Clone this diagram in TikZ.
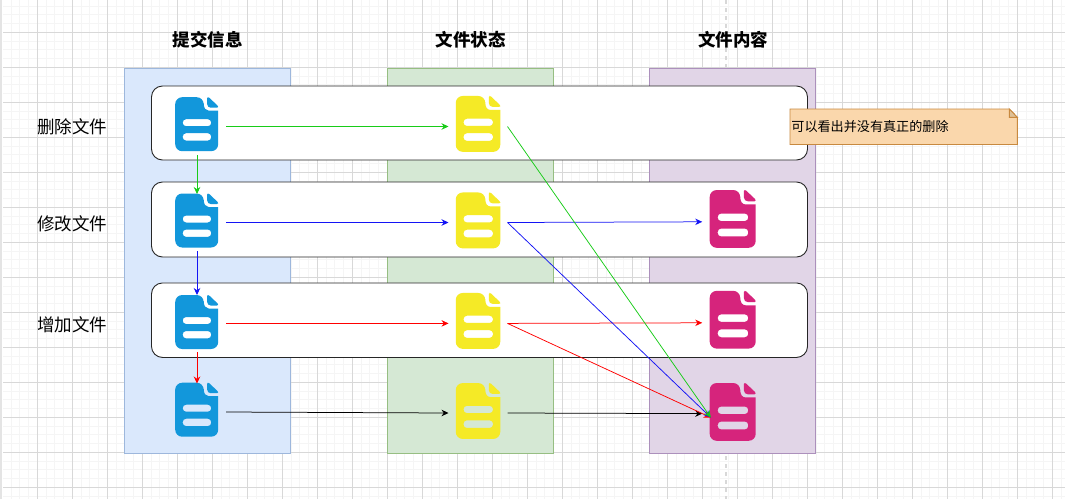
\documentclass[tikz,border=0pt]{standalone}
\usepackage{fontspec}
\setmainfont{Noto Sans CJK SC}
\usetikzlibrary{arrows.meta}
\definecolor{gridminor}{HTML}{F5F5F5}
\definecolor{gridmajor}{HTML}{D8D8D8}
\definecolor{docblue}{HTML}{1297DB}
\definecolor{docyellow}{HTML}{F5EA26}
\definecolor{docpink}{HTML}{D6247C}
\definecolor{greenflow}{HTML}{18CC18}
\definecolor{blueflow}{HTML}{1414F5}
\definecolor{infofill}{HTML}{DAE8FC}
\definecolor{infoedge}{HTML}{9DB7DC}
\definecolor{statefill}{HTML}{D5E8D4}
\definecolor{stateedge}{HTML}{96BE82}
\definecolor{contentfill}{HTML}{E1D5E7}
\definecolor{contentedge}{HTML}{AC90BC}
\definecolor{notefill}{HTML}{FAD7AC}
\definecolor{noteedge}{HTML}{C8893F}
\definecolor{notefold}{HTML}{DEC096}
\tikzset{
  >={Stealth[length=7pt,width=6.5pt]},
  lane/.style={draw=#1edge,fill=#1fill,line width=1pt,inner sep=0pt,minimum width=166pt,minimum height=385.5pt},
  rowbox/.style={draw=black!85,fill=white,rounded corners=11pt,line width=0.9pt,minimum width=656pt,inner sep=0pt},
  docfile/.style={minimum width=59pt,minimum height=57pt,inner sep=0pt,outer sep=0pt},
  title/.style={font=\fontsize{17.5}{20}\selectfont\bfseries},
  action/.style={font=\fontsize{17.5}{20}\selectfont},
  flow/.style={->,line width=0.75pt},
  pics/docicon/.style={code={
    \fill[#1,even odd rule]
      [rounded corners=7pt](-21.5,0)--(-21.5,-27)--(7,-27)[sharp corners]--(7,-21)
      ..controls (7,-16) and (9,-13.5)..(12,-13.5)--(21.5,-13.5)[rounded corners=7pt]--(21.5,27)--(-21.5,27)--cycle
      [rounded corners=3.4pt](-14,-5) rectangle (14.5,2)(-14,9) rectangle (14.5,16.4);
    \fill[#1,rounded corners=1pt](10.5,-27)--(10.5,-21)..controls (10.5,-18) and (12,-16.5)..(15,-16.5)
      --(21.5,-16.5)--(21.5,-18)--(12,-27)--cycle;
  }}
}
\begin{document}
\begin{tikzpicture}[x=1pt,y=-1pt]
\useasboundingbox (0,0) rectangle (1065,499);
\fill[gridmajor!70](0,0) rectangle (2,499);
% grid
\foreach \gx in {11.05,19.8,...,1065}{\draw[gridminor,line width=0.8pt](\gx,0)--(\gx,499);}
\foreach \gy in {5.95,14.7,...,499}{\draw[gridminor,line width=0.8pt](3,\gy)--(1065,\gy);}
\foreach \gx in {37.3,72.3,...,1065}{\draw[gridmajor,line width=0.8pt](\gx,0)--(\gx,499);}
\foreach \gy in {32.3,67.3,...,499}{\draw[gridmajor,line width=0.8pt](3,\gy)--(1065,\gy);}
\draw[gridmajor,line width=1.3pt,dash pattern=on 4pt off 4pt](726,0)--(726,499);
% columns
\node[lane=info] (infolane) at (207.8,261) {};
\node[lane=state] (statelane) at (470.5,261) {};
\node[lane=content] (contentlane) at (732.8,261) {};
\node[title] (infotitle) at (207.5,39.5) {提交信息};
\node[title] (statetitle) at (470.5,39.5) {文件状态};
\node[title] (contenttitle) at (733,39.5) {文件内容};
% rows
\node[rowbox,minimum height=74pt] (delrow) at (479.5,123) {};
\node[rowbox,minimum height=75pt] (editrow) at (479.5,219.5) {};
\node[rowbox,minimum height=74.5pt] (addrow) at (479.5,320.2) {};
\node[action] (dellabel) at (72,127) {删除文件};
\node[action] (editlabel) at (72,223.5) {修改文件};
\node[action] (addlabel) at (72,324.5) {增加文件};
% files
\foreach \nm/\py/\iy in {m1/126.5/124.2,m2/222.5/220.5,m3/323.5/322,m4/412/409.7}{
  \node[docfile,minimum width=58pt] (\nm) at (197,\py) {};
  \pic at (196.7,\iy) {docicon=docblue};
}
\foreach \nm/\py/\iy in {f1/126.5/123.9,f2/222.5/220.4,f3/323.4/320.9,f4/413/411}{
  \node[docfile] (\nm) at (478,\py) {};
  \pic[scale=1.035] at (478,\iy) {docicon=docyellow};
}
\foreach \nm/\py/\iy in {c2/221.8/218.9,c3/322.8/319.7,c4/413.6/411.9}{
  \node[docfile] (\nm) at (731.7,\py) {};
  \pic[scale=1.07] at (732.7,\iy) {docicon=docpink};
}
\coordinate (hit) at (710.8,417.5);
% note
\draw[draw=noteedge,fill=notefill,line width=0.9pt](790,109)--(1009.3,109)--(1017.3,117.3)--(1017.3,144.5)--(790,144.5)--cycle;
\draw[draw=noteedge,fill=notefold,line width=0.9pt](1009.3,109)--(1009.3,117.3)--(1017.3,117.3)--cycle;
\node[anchor=west,inner sep=0pt,font=\fontsize{13.1}{15}\selectfont] (deltip) at (791.2,126.5) {可以看出并没有真正的删除};
% connectors
\draw[flow,greenflow](m1.east)--(f1.west);
\draw[flow,greenflow](m1.south)--(m2.north);
\draw[flow,blueflow](m2.east)--(f2.west);
\draw[flow,blueflow](m2.south)--(m3.north);
\draw[flow,blueflow](f2.east)--(c2.west);
\draw[flow,red](m3.east)--(f3.west);
\draw[flow,red](m3.south)--(m4.north);
\draw[flow,red](f3.east)--(c3.west);
\draw[flow,black](m4.east)--(f4.west);
\draw[flow,black](f4.east)--(c4.west);
\draw[flow,red](f3.east)--(hit);
\draw[flow,blueflow](f2.east)--(hit);
\draw[flow,greenflow](f1.east)--(hit);
\end{tikzpicture}
\end{document}
